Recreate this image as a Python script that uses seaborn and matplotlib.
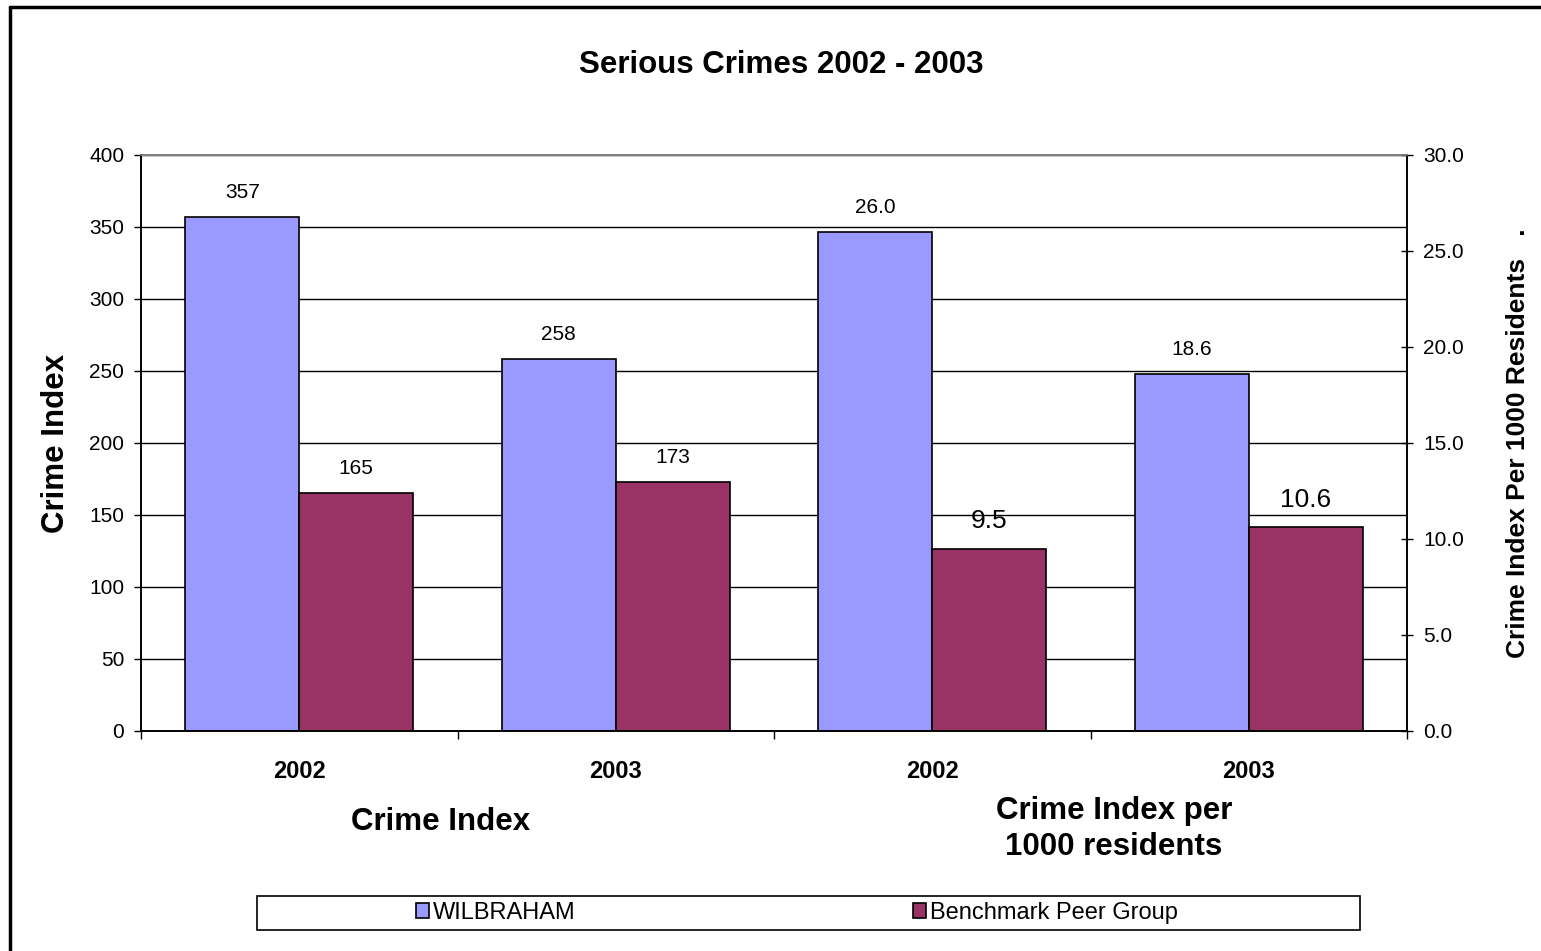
import pandas as pd
import seaborn as sns
import matplotlib.pyplot as plt
from matplotlib.lines import Line2D
from matplotlib.patches import Rectangle

# data
groups = ["Crime Index 2002", "Crime Index 2003", "Per 1000 2002", "Per 1000 2003"]
years = ["2002", "2003", "2002", "2003"]
series = ["WILBRAHAM", "Benchmark Peer Group"]
wilbraham_index = [357, 258]
benchmark_index = [165, 173]
wilbraham_rate = [26.0, 18.6]
benchmark_rate = [9.5, 10.6]
colors = ["#9999FF", "#993366"]

df_index = pd.DataFrame({
    "group": groups[:2] * 2,
    "series": [series[0]] * 2 + [series[1]] * 2,
    "value": wilbraham_index + benchmark_index,
})
df_rate = pd.DataFrame({
    "group": groups[2:] * 2,
    "series": [series[0]] * 2 + [series[1]] * 2,
    "value": wilbraham_rate + benchmark_rate,
})

sns.set_theme(style="white")
plt.rcParams["font.family"] = ["Liberation Sans", "DejaVu Sans"]
plt.rcParams["text.color"] = "black"
plt.rcParams["axes.labelcolor"] = "black"
plt.rcParams["xtick.color"] = "black"
plt.rcParams["ytick.color"] = "black"

fig, ax = plt.subplots(figsize=(15.41, 9.51), dpi=100)
fig.subplots_adjust(left=141 / 1541, right=1407 / 1541, bottom=1 - 731 / 951, top=1 - 155 / 951)
ax2 = ax.twinx()

sns.barplot(data=df_index, x="group", y="value", hue="series", order=groups,
            hue_order=series, palette=colors, saturation=1, width=0.72,
            edgecolor="black", linewidth=1.2, errorbar=None, legend=False, ax=ax)
sns.barplot(data=df_rate, x="group", y="value", hue="series", order=groups,
            hue_order=series, palette=colors, saturation=1, width=0.72,
            edgecolor="black", linewidth=1.2, errorbar=None, legend=False, ax=ax2)

# value labels
for c in ax.containers:
    ax.bar_label(c, fmt="{:.0f}", padding=11, fontsize=15)
for c, fs in zip(ax2.containers, [15, 19]):
    ax2.bar_label(c, fmt="{:.1f}", padding=11, fontsize=fs)

# y axes
ax.set_ylim(0, 400)
ax.set_yticks(range(0, 401, 50))
ax2.set_ylim(0, 30)
ax2.set_yticks(range(0, 31, 5))
ax2.set_yticklabels([f"{v:.1f}" for v in range(0, 31, 5)])
ax.yaxis.grid(True, color="black", linewidth=1)
ax.set_axisbelow(True)
ax2.grid(False)

ax.tick_params(axis="y", which="major", direction="out", length=5, width=1,
               color="black", labelsize=15, pad=7, left=True)
ax2.tick_params(axis="y", which="major", direction="inout", length=9, width=1,
                color="black", labelsize=15, pad=7, right=True)

ax.set_ylabel("Crime Index", fontsize=22.5, fontweight="bold", labelpad=13)
ax2.set_ylabel("Crime Index Per 1000 Residents   .", fontsize=19,
               fontweight="bold", labelpad=30)

# x axis: ticks between groups, year labels under each group
ax.set_xlim(-0.5, 3.5)
ax.set_xticks([-0.5, 0.5, 1.5, 2.5, 3.5])
ax.set_xticklabels([])
ax.set_xticks(range(4), minor=True)
ax.set_xticklabels(years, minor=True, fontsize=17, fontweight="bold")
ax.tick_params(axis="x", which="major", direction="out", length=6, width=1,
               color="black", bottom=True)
ax.tick_params(axis="x", which="minor", length=0, pad=21)
ax.set_xlabel("")
ax2.set_xlabel("")

for a in (ax, ax2):
    for s in a.spines.values():
        s.set_color("black")
        s.set_linewidth(1.2)
    a.spines["top"].set_color("#808080")

# titles and group captions
fig.text(781 / 1541, 1 - 65 / 951, "Serious Crimes 2002 - 2003", ha="center",
         va="center", fontsize=22.5, fontweight="bold")
fig.text(441 / 1541, 1 - 822 / 951, "Crime Index", ha="center", va="center",
         fontsize=22.5, fontweight="bold")
fig.text(1114 / 1541, 1 - 829 / 951, "Crime Index per\n1000 residents", ha="center",
         va="center", fontsize=22.5, fontweight="bold", linespacing=1.25)

# legend in a wide box
fig.patches.append(Rectangle((257 / 1541, 1 - 930 / 951), 1103 / 1541, 34 / 951,
                             transform=fig.transFigure, fill=False,
                             edgecolor="black", linewidth=1.2))
handles = [Rectangle((0, 0), 1, 1, facecolor=c, edgecolor="black", linewidth=1.2)
           for c in colors]
fig.legend(handles, series, loc="center", bbox_to_anchor=(797 / 1541, 1 - 913 / 951),
           ncol=2, frameon=False, fontsize=17, handlelength=0.55, handleheight=0.6,
           handletextpad=0.15, columnspacing=14.3, borderpad=0)

# chart border (left and top edges visible)
fig.lines.append(Line2D([10 / 1541, 10 / 1541], [0, 1 - 7 / 951],
                        transform=fig.transFigure, color="black", linewidth=2.5))
fig.lines.append(Line2D([10 / 1541, 1], [1 - 7 / 951, 1 - 7 / 951],
                        transform=fig.transFigure, color="black", linewidth=2.5))

plt.savefig("out.png", dpi=100)
